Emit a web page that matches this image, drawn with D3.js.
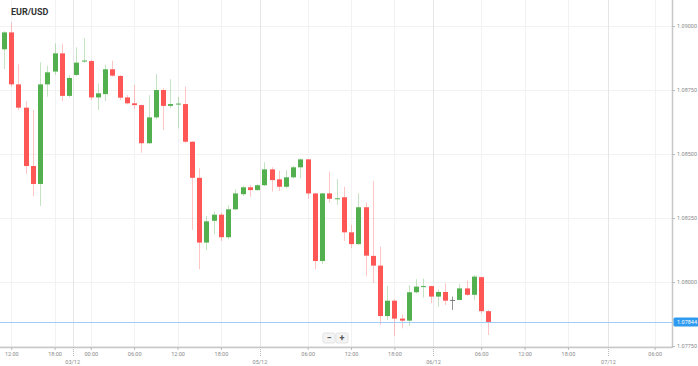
<!DOCTYPE html>
<html><head><meta charset="utf-8">
<script src="https://cdn.jsdelivr.net/npm/d3@7/dist/d3.min.js"></script>
<style>html,body{margin:0;padding:0;background:#fff;}svg{display:block;font-family:Roboto,"Open Sans",sans-serif;}</style>
</head><body><svg id="c" width="698" height="366"></svg>
<script>
const title = "EUR/USD";
const opens  = [1.08909,1.08975,1.08772,1.08681,1.08453,1.08383,1.08772,1.08822,1.08893,1.08727,1.08809,1.08861,1.08863,1.08721,1.08734,1.08831,1.08805,1.08721,1.08698,1.08691,1.08542,1.08643,1.08750,1.08688,1.08695,1.08695,1.08548,1.08407,1.08154,1.08239,1.08263,1.08175,1.08284,1.08343,1.08370,1.08359,1.08378,1.08440,1.08401,1.08372,1.08409,1.08448,1.08479,1.08346,1.08082,1.08346,1.08325,1.08331,1.08194,1.08148,1.08292,1.08102,1.08064,1.07867,1.07927,1.07857,1.07849,1.07960,1.07982,1.07984,1.07943,1.07961,1.07930,1.07930,1.07975,1.07950,1.08019,1.07886];
const highs  = [1.08980,1.09014,1.08850,1.08707,1.08672,1.08858,1.08845,1.08932,1.08930,1.08809,1.08917,1.08952,1.08867,1.08776,1.08848,1.08864,1.08808,1.08730,1.08770,1.08693,1.08730,1.08813,1.08757,1.08792,1.08723,1.08763,1.08550,1.08444,1.08258,1.08275,1.08270,1.08300,1.08362,1.08375,1.08379,1.08383,1.08468,1.08448,1.08435,1.08438,1.08453,1.08483,1.08480,1.08348,1.08348,1.08431,1.08402,1.08372,1.08223,1.08346,1.08310,1.08395,1.08138,1.07984,1.07932,1.07874,1.07988,1.08011,1.08014,1.07986,1.07971,1.07995,1.07943,1.07992,1.08005,1.08027,1.08021,1.07891];
const lows   = [1.08832,1.08763,1.08672,1.08422,1.08336,1.08297,1.08724,1.08809,1.08707,1.08721,1.08805,1.08857,1.08711,1.08672,1.08707,1.08802,1.08711,1.08694,1.08676,1.08505,1.08540,1.08636,1.08594,1.08680,1.08600,1.08542,1.08203,1.08050,1.08125,1.08186,1.08160,1.08167,1.08281,1.08336,1.08333,1.08357,1.08375,1.08353,1.08355,1.08366,1.08405,1.08405,1.08325,1.08050,1.08070,1.08310,1.08301,1.08160,1.08132,1.08145,1.08023,1.07996,1.07832,1.07852,1.07789,1.07819,1.07829,1.07956,1.07939,1.07917,1.07904,1.07910,1.07891,1.07928,1.07946,1.07930,1.07878,1.07793];
const closes = [1.08975,1.08772,1.08681,1.08453,1.08383,1.08772,1.08819,1.08893,1.08727,1.08797,1.08857,1.08865,1.08721,1.08737,1.08831,1.08806,1.08720,1.08698,1.08691,1.08542,1.08643,1.08750,1.08688,1.08695,1.08697,1.08548,1.08407,1.08154,1.08237,1.08263,1.08175,1.08284,1.08346,1.08370,1.08359,1.08378,1.08440,1.08398,1.08372,1.08409,1.08448,1.08479,1.08346,1.08082,1.08346,1.08325,1.08327,1.08194,1.08148,1.08292,1.08103,1.08064,1.07867,1.07927,1.07857,1.07849,1.07960,1.07982,1.07984,1.07943,1.07961,1.07927,1.07930,1.07975,1.07950,1.08021,1.07886,1.07844];
const lastPrice = 1.07844;
const yTicks = [1.0775, 1.0800, 1.0825, 1.0850, 1.0875, 1.0900];
const timeTickIdx = [1, 7, 12, 18, 24, 30, 42, 48, 54, 66, 72, 78, 90];
const timeTickLabels = ["12:00","18:00","00:00","06:00","12:00","18:00","06:00","12:00","18:00","06:00","12:00","18:00","06:00"];
const dateTickIdx = [9.5, 35.4, 59.4, 83.6];
const dateTickLabels = ["03/12","05/12","06/12","07/12"];

const svg = d3.select("#c");
const plotRight = 672, plotBottom = 347;
const x = d3.scaleLinear().domain([0, 90]).range([4, 654.7]);
const y = d3.scaleLinear().domain([1.09, 1.0775]).range([26, 346]);
const GREEN = "#52b04f", RED = "#ff5656", GRAY = "#777";

// grid
svg.append("g").selectAll("line").data(yTicks).join("line")
  .attr("x1", 0).attr("x2", plotRight).attr("y1", d => Math.round(y(d)) + 0.5).attr("y2", d => Math.round(y(d)) + 0.5)
  .attr("stroke", "#f2f2f2");
svg.append("g").selectAll("line").data(timeTickIdx).join("line")
  .attr("x1", d => Math.round(x(d)) + 0.5).attr("x2", d => Math.round(x(d)) + 0.5).attr("y1", 0).attr("y2", plotBottom)
  .attr("stroke", "#f2f2f2");
svg.append("g").selectAll("line").data(dateTickIdx).join("line")
  .attr("x1", d => Math.round(x(d)) + 0.5).attr("x2", d => Math.round(x(d)) + 0.5).attr("y1", 0).attr("y2", plotBottom)
  .attr("stroke", "#e6e6e6");

// candles
const data = opens.map((o, i) => ({i, o, h: highs[i], l: lows[i], c: closes[i]}));
const col = d => d.c > d.o ? GREEN : (d.c < d.o ? RED : GRAY);
const g = svg.append("g");
g.selectAll("line.w").data(data).join("line").attr("class", "w")
  .attr("x1", d => Math.round(x(d.i)) + 0.5).attr("x2", d => Math.round(x(d.i)) + 0.5)
  .attr("y1", d => y(d.h)).attr("y2", d => y(d.l))
  .attr("stroke", col).attr("stroke-opacity", d => d.c === d.o ? 0.8 : 0.35).attr("stroke-width", 1);
g.selectAll("rect.b").data(data).join("rect").attr("class", "b")
  .attr("x", d => Math.round(x(d.i)) - 2).attr("width", 5)
  .attr("y", d => y(Math.max(d.o, d.c)))
  .attr("height", d => Math.max(1, Math.abs(y(d.o) - y(d.c))))
  .attr("fill", col);

// price line
svg.append("line").attr("x1", 0).attr("x2", plotRight)
  .attr("y1", Math.round(y(lastPrice)) + 0.5).attr("y2", Math.round(y(lastPrice)) + 0.5)
  .attr("stroke", "#9fcdf5").attr("stroke-width", 1);

// axes lines
svg.append("line").attr("x1", plotRight + 0.5).attr("x2", plotRight + 0.5).attr("y1", 0).attr("y2", plotBottom + 1)
  .attr("stroke", "#c8c8c8").attr("stroke-width", 1.5);
svg.append("line").attr("x1", 0).attr("x2", plotRight).attr("y1", plotBottom + 0.5).attr("y2", plotBottom + 0.5)
  .attr("stroke", "#c8c8c8").attr("stroke-width", 1.5);

// right axis
const ya = d3.axisRight(y).tickValues(yTicks).tickFormat(d3.format(".5f")).tickSize(3).tickPadding(2);
const yag = svg.append("g").attr("transform", `translate(${plotRight},0)`).call(ya);
yag.select(".domain").remove();
yag.selectAll("line").attr("stroke", "#bbb");
yag.selectAll("text").attr("fill", "#8a8a8a").attr("font-size", 5.5).attr("font-family", "Roboto, sans-serif");

// price label
const py = y(lastPrice);
svg.append("rect").attr("x", plotRight + 1.5).attr("y", py - 4.5).attr("width", 25).attr("height", 9).attr("rx", 1.5)
  .attr("fill", "#2e9bf0");
svg.append("text").attr("x", plotRight + 5).attr("y", py + 2).attr("font-size", 5.5).attr("fill", "#fff")
  .text(d3.format(".5f")(lastPrice));

// bottom axis
const xa = d3.axisBottom(x).tickValues(timeTickIdx).tickFormat((d, k) => timeTickLabels[k]).tickSize(3).tickPadding(2);
const xag = svg.append("g").attr("transform", `translate(0,${plotBottom})`).call(xa);
xag.select(".domain").remove();
xag.selectAll("line").attr("stroke", "#bbb");
xag.selectAll("text").attr("fill", "#8a8a8a").attr("font-size", 5.5).attr("font-family", "Roboto, sans-serif");

const dg = svg.append("g");
dg.selectAll("line").data(dateTickIdx).join("line")
  .attr("x1", d => Math.round(x(d)) + 0.5).attr("x2", d => Math.round(x(d)) + 0.5)
  .attr("y1", plotBottom).attr("y2", plotBottom + 10)
  .attr("stroke", "#bbb").attr("stroke-dasharray", "1,1");
dg.selectAll("text").data(dateTickIdx).join("text")
  .attr("x", d => x(d)).attr("y", 364).attr("text-anchor", "middle")
  .attr("fill", "#8a8a8a").attr("font-size", 5.5)
  .text((d, k) => dateTickLabels[k]);

// title
svg.append("text").attr("x", 11).attr("y", 15).attr("font-size", 9).attr("font-weight", "bold")
  .attr("fill", "#333").text(title);

// zoom buttons
const zb = svg.append("g");
[["−", 323], ["+", 336]].forEach(([t, bx]) => {
  zb.append("rect").attr("x", bx).attr("y", 333).attr("width", 12).attr("height", 10).attr("rx", 1.5)
    .attr("fill", "#f4f4f4").attr("stroke", "#e3e3e3");
  zb.append("text").attr("x", bx + 6).attr("y", 341).attr("text-anchor", "middle")
    .attr("font-size", 9).attr("font-weight", "bold").attr("fill", "#555").text(t);
});
</script></body></html>
